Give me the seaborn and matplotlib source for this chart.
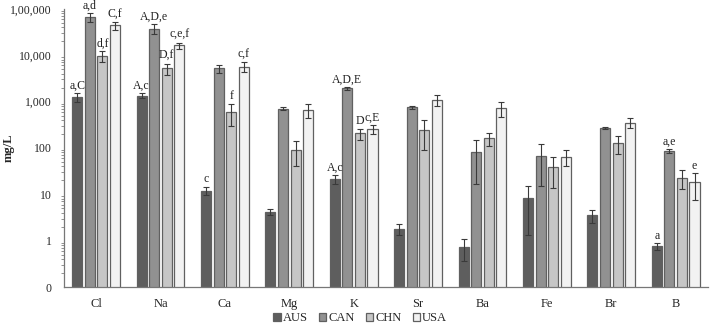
import pandas as pd
import numpy as np
import matplotlib
matplotlib.use('Agg')
import matplotlib.pyplot as plt
import seaborn as sns

elements = ['Cl', 'Na', 'Ca', 'Mg', 'K', 'Sr', 'Ba', 'Fe', 'Br', 'B']
countries = ['AUS', 'CAN', 'CHN', 'USA']

# mean concentrations (mg/L)
aus = [1250, 1340, 12, 4.1, 21, 1.8, 0.73, 8.3, 3.5, 0.76]
can = [67000, 37500, 5200, 705, 1950, 750, 82, 67, 271, 86]
chn = [9800, 5200, 600, 90, 206, 242, 160, 39, 129, 23]
usa = [44000, 16300, 5700, 670, 258, 1100, 726, 65, 353, 18]

# error bars
aus_err = [250, 160, 2.5, 0.6, 4.5, 0.5, 0.37, 7, 1.1, 0.13]
can_err = [15000, 9000, 1000, 40, 150, 70, 65, 52, 10, 9]
chn_err = [2700, 1400, 300, 50, 55, 150, 50, 25, 55, 10]
usa_err = [9000, 2500, 1300, 230, 60, 300, 250, 25, 90, 10.5]

# significance letters
aus_lab = ['a,C', 'A,c', 'c', '', 'A,c', '', '', '', '', 'a']
can_lab = ['a,d', 'A,D,e', '', '', 'A,D,E', '', '', '', '', 'a,e']
chn_lab = ['d,f', 'D,f', 'f', '', 'D', '', '', '', '', '']
usa_lab = ['C,f', 'c,e,f', 'c,f', '', 'c,E', '', '', '', '', 'e']

yticks = [0.1, 1, 10, 100, 1000, 10000, 100000]
ytick_labels = ['0', '1', '10', '100', '1,000', '10,000', '1,00,000']

colors = ['#5e5e5e', '#919191', '#c6c6c6', '#f2f2f2']

means = [aus, can, chn, usa]
errs = [aus_err, can_err, chn_err, usa_err]
labs = [aus_lab, can_lab, chn_lab, usa_lab]

df = pd.DataFrame({
    'element': elements * 4,
    'country': np.repeat(countries, len(elements)),
    'value': aus + can + chn + usa,
})

sns.set_style('white')
plt.rcParams['font.family'] = ['Liberation Serif', 'DejaVu Serif']

fig = plt.figure(figsize=(7.1, 3.28), dpi=100)
ax = fig.add_axes([0.090, 0.125, 0.907, 0.848])

sns.barplot(data=df, x='element', y='value', hue='country', hue_order=countries,
            order=elements, palette=colors, edgecolor='#606060', linewidth=0.9,
            width=0.78, gap=0.2, errorbar=None, ax=ax)
ax.set_yscale('log')

bar_conts = list(ax.containers)
for i, cont in enumerate(bar_conts):
    for j, bar in enumerate(cont):
        x = bar.get_x() + bar.get_width() / 2
        m = means[i][j]
        e = errs[i][j]
        ax.errorbar(x, m, yerr=e, color='#3a3a3a', elinewidth=0.8,
                    capsize=2.2, capthick=0.8, fmt='none')
        if labs[i][j]:
            ax.annotate(labs[i][j], (x, m + e), xytext=(0, 1), textcoords='offset points',
                        ha='center', va='bottom', fontsize=8.5, color='#222222',
                        annotation_clip=False)

ax.set_ylim(0.1, 100000)
ax.set_xlim(-0.5, len(elements) - 0.5)
ax.set_yticks(yticks)
ax.set_yticklabels(ytick_labels, fontsize=8.5)
ax.tick_params(axis='y', which='major', direction='out', length=3, width=0.7, color='#666666', pad=6)
ax.tick_params(axis='y', which='minor', direction='out', length=2, width=0.5, color='#666666', left=True)
ax.tick_params(axis='x', length=0, labelsize=9, pad=8)
ax.set_xlabel('')
ax.set_ylabel('mg/L', fontsize=9, fontweight='bold')
ax.yaxis.set_label_coords(-0.077, 0.5)
sns.despine(ax=ax)
for s in ['left', 'bottom']:
    ax.spines[s].set_color('#777777')
    ax.spines[s].set_linewidth(0.9)

handles, labels = ax.get_legend_handles_labels()
ax.get_legend().remove()
fig.legend(handles, labels, loc='center', bbox_to_anchor=(0.507, 0.03), ncol=4,
           frameon=False, fontsize=9, handlelength=0.6, handleheight=0.6,
           handletextpad=0.15, columnspacing=0.9)

plt.savefig('out.png', dpi=100)
plt.close()
